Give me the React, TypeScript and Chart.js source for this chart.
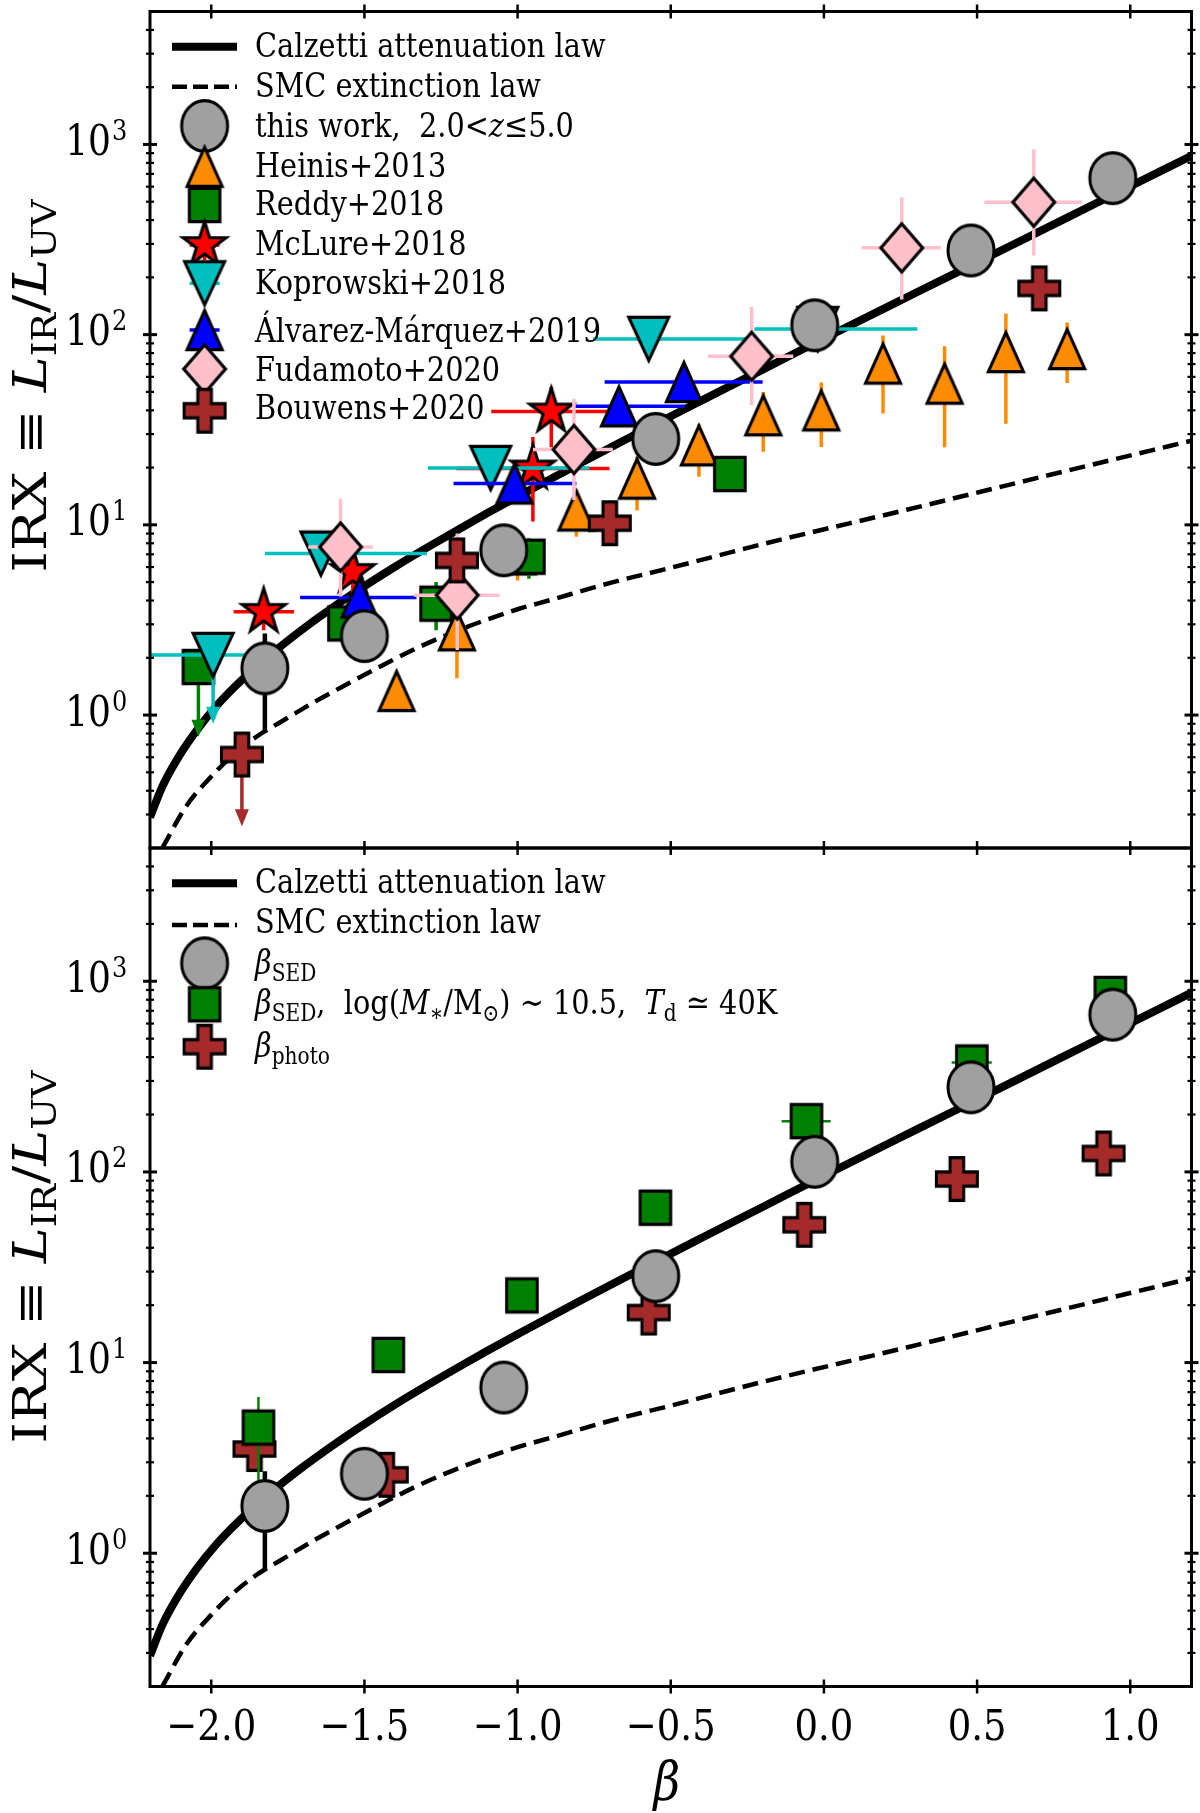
import React, { useEffect, useRef } from "react";
import { Chart, registerables } from "chart.js";

Chart.register(...registerables);

const FONT = '"DejaVu Serif", "Liberation Serif", serif';
const TEXT_VS = 1.18; // vertical stretch of the glyphs, as in the reference picture

// ---------------- axes ----------------
const X_MIN = -2.2;
const X_MAX = 1.2;
const Y_MIN = 0.2;
const Y_MAX = 5000;
const xTickValues = [-2.0, -1.5, -1.0, -0.5, 0.0, 0.5, 1.0];
const xTickLabels = ["\u22122.0", "\u22121.5", "\u22121.0", "\u22120.5", "0.0", "0.5", "1.0"];
const yTickValues = [1, 10, 100, 1000];
const yTickExponents = ["0", "1", "2", "3"];
const yMinorValues = [
  0.3, 0.4, 0.5, 0.6, 0.7, 0.8, 0.9, 2, 3, 4, 5, 6, 7, 8, 9, 20, 30, 40, 50, 60, 70, 80, 90,
  200, 300, 400, 500, 600, 700, 800, 900, 2000, 3000, 4000,
];

// ---------------- model curves ----------------
const calzettiBeta = [-2.2, -2.16, -2.11, -2.05, -1.98, -1.9, -1.8, -1.7, -1.6, -1.5, -1.4, -1.3, -1.2, -1.1, -1.0, -0.8, -0.6, -0.4, -0.2, 0.0, 0.3, 0.6, 0.9, 1.2];
const calzettiIRX = [0.29, 0.42, 0.59, 0.82, 1.13, 1.53, 2.12, 2.84, 3.71, 4.76, 6.02, 7.52, 9.32, 11.5, 14.1, 20.9, 30.8, 45.0, 65.5, 95.5, 166, 288, 501, 871];
const smcBeta = [-2.16, -2.08, -2.0, -1.932, -1.85, -1.768, -1.66, -1.551, -1.44, -1.334, -1.22, -1.116, -1.0, -0.899, -0.7, -0.508, -0.2, 0.27, 0.7, 1.2];
const smcIRX = [0.2, 0.335, 0.475, 0.61, 0.774, 0.93, 1.18, 1.47, 1.83, 2.23, 2.68, 3.11, 3.6, 4.0, 4.94, 5.9, 7.92, 12.0, 17.7, 27.7];

// ---------------- top panel ----------------
const thisWorkBeta = [-1.825, -1.5, -1.045, -0.549, -0.03, 0.48, 0.943];
const thisWorkIRX = [1.76, 2.6, 7.35, 28.3, 112, 277, 665];
const thisWorkLo = [0.81, 1.92, 5.55, 28.3, 112, 277, 665];
const thisWorkHi = [2.68, 2.6, 7.35, 28.3, 112, 277, 665];

const heinisBeta = [-1.395, -1.198, -1.0, -0.808, -0.61, -0.408, -0.198, -0.0085, 0.193, 0.394, 0.594, 0.794];
const heinisIRX = [1.34, 2.79, 7.0, 11.9, 17.5, 26.2, 37.7, 40, 70.5, 55.3, 81, 84];
const heinisLo = [1.34, 1.56, 5.1, 8.65, 11.9, 17.9, 24.2, 25.7, 38.5, 25.6, 34, 55.7];
const heinisHi = [1.34, 4.0, 8.5, 15.2, 22.9, 33.8, 50, 56, 99, 87, 129, 116];

const reddyBeta = [-2.042, -1.567, -1.266, -0.963, -0.307];
const reddyIRX = [1.79, 3.03, 3.85, 6.8, 18.5];
const reddyLo = [1.79, 3.03, 2.79, 5.2, 18.5];
const reddyHi = [1.79, 3.03, 5.0, 8.5, 18.5];
const reddyLimitTo = [0.77, null, null, null, null];

const mclureBeta = [-1.829, -1.538, -0.95, -0.89];
const mclureIRX = [3.49, 5.66, 19.8, 39.5];
const mclureXLo = [-1.927, -1.538, -1.2, -1.086];
const mclureXHi = [-1.73, -1.538, -0.7, -0.694];
const mclureLo = [2.79, 3.35, 10.4, 25.6];
const mclureHi = [4.3, 8.0, 29, 53];

const koprowskiBeta = [-1.994, -1.642, -1.088, -0.572, -0.02];
const koprowskiIRX = [2.07, 7.06, 19.9, 95, 107];
const koprowskiXLo = [-2.198, -1.825, -1.293, -0.754, -0.227];
const koprowskiXHi = [-1.873, -1.296, -0.765, -0.247, 0.305];
const koprowskiLimitTo = [0.9, null, null, null, null];

const alvarezBeta = [-1.516, -1.01, -0.669, -0.457];
const alvarezIRX = [4.15, 16.5, 42, 56.4];
const alvarezXLo = [-1.71, -1.209, -0.814, -0.716];
const alvarezXHi = [-1.33, -0.808, -0.454, -0.2];

const fudamotoBeta = [-1.578, -1.197, -0.816, -0.236, 0.254, 0.685];
const fudamotoIRX = [7.65, 4.27, 24.9, 76.9, 286, 497];
const fudamotoXLo = [-1.683, -1.337, -0.95, -0.378, 0.123, 0.524];
const fudamotoXHi = [-1.473, -1.059, -0.689, -0.1, 0.382, 0.842];
const fudamotoLo = [4.2, 2.2, 13.5, 42.5, 153, 261];
const fudamotoHi = [13.7, 9.0, 46, 140, 528, 942];

const bouwensBeta = [-1.9, -1.198, -0.699, 0.703];
const bouwensIRX = [0.62, 6.5, 10.2, 175];
const bouwensLimitTo = [0.26, null, null, null];

// ---------------- bottom panel ----------------
const sedBeta = [-1.825, -1.5, -1.045, -0.549, -0.03, 0.48, 0.943];
const sedIRX = [1.77, 2.61, 7.4, 28.4, 113, 278, 668];
const sedLo = [0.82, 1.92, 5.57, 28.4, 113, 278, 668];
const sedHi = [2.69, 2.61, 7.4, 28.4, 113, 278, 668];

const massBeta = [-1.846, -1.422, -0.986, -0.55, -0.057, 0.483, 0.935];
const massIRX = [4.56, 10.96, 22.5, 64.9, 184.6, 375, 858];
const massLo = [2.37, 10.96, 22.5, 64.9, 184.6, 375, 858];
const massHi = [6.6, 10.96, 22.5, 64.9, 184.6, 375, 858];
const massXLo = [-1.846, -1.422, -0.986, -0.55, -0.138, 0.417, 0.935];
const massXHi = [-1.846, -1.422, -0.986, -0.55, 0.022, 0.548, 0.935];

const photoBeta = [-1.859, -1.427, -0.572, -0.064, 0.434, 0.913];
const photoIRX = [3.52, 2.58, 18.3, 52.8, 91.8, 125];

// ---------------- colours ----------------
const GREY = "#a0a0a0";
const ORANGE = "#ff8c00";
const GREEN = "#008000";
const RED = "#ff0000";
const CYAN = "#00bfbf";
const BLUE = "#0000ff";
const PINK = "#ffc0cb";
const BROWN = "#a52a2a";

type Seg = { t: string; it?: boolean; sub?: boolean; sup?: boolean };

function drawRich(
  ctx: CanvasRenderingContext2D,
  segs: Seg[],
  x: number,
  y: number,
  size: number,
  align: "left" | "center" | "right" = "left",
  hs = 1,
  vs = TEXT_VS
) {
  const parts = segs.map((s) => {
    const fs = s.sub || s.sup ? size * 0.7 : size;
    const font = `${s.it ? "italic " : ""}${fs}px ${FONT}`;
    ctx.font = font;
    return {
      t: s.t,
      font,
      w: ctx.measureText(s.t).width * hs,
      dy: (s.sub ? size * 0.22 : s.sup ? -size * 0.4 : 0) * vs,
    };
  });
  const total = parts.reduce((a, p) => a + p.w, 0);
  let cx = align === "left" ? x : align === "center" ? x - total / 2 : x - total;
  ctx.textAlign = "left";
  ctx.textBaseline = "alphabetic";
  for (const p of parts) {
    ctx.save();
    ctx.translate(cx, y + p.dy);
    ctx.scale(hs, vs);
    ctx.font = p.font;
    ctx.fillText(p.t, 0, 0);
    ctx.restore();
    cx += p.w;
  }
  return total;
}

function makeMarker(shape: string, s: number, fill: string, sy = 1.1, lw = 3): HTMLCanvasElement {
  const pad = Math.ceil(lw * 3) + 2;
  let w = Math.ceil(2 * s + 2 * pad);
  if (w % 2) w += 1;
  let h = Math.ceil((2 * s + 2 * pad) * sy);
  if (h % 2) h += 1;
  const c = document.createElement("canvas");
  c.width = w;
  c.height = h;
  const g = c.getContext("2d")!;
  g.setTransform(1, 0, 0, sy, w / 2, h / 2);
  g.beginPath();
  if (shape === "circle") {
    g.arc(0, 0, s, 0, Math.PI * 2);
  } else if (shape === "triUp") {
    g.moveTo(0, -s);
    g.lineTo(s, s);
    g.lineTo(-s, s);
    g.closePath();
  } else if (shape === "triDown") {
    g.moveTo(0, s);
    g.lineTo(s, -s);
    g.lineTo(-s, -s);
    g.closePath();
  } else if (shape === "square") {
    g.rect(-s, -s, 2 * s, 2 * s);
  } else if (shape === "diamond") {
    g.moveTo(0, -s);
    g.lineTo(s * 0.95, 0);
    g.lineTo(0, s);
    g.lineTo(-s * 0.95, 0);
    g.closePath();
  } else if (shape === "star") {
    for (let i = 0; i < 10; i++) {
      const r = i % 2 ? s * 0.381966 : s;
      const a = -Math.PI / 2 + (i * Math.PI) / 5;
      const px = r * Math.cos(a);
      const py = r * Math.sin(a);
      if (i === 0) g.moveTo(px, py);
      else g.lineTo(px, py);
    }
    g.closePath();
  } else if (shape === "plus") {
    const a = s / 3;
    const pts = [
      [-a, -s], [a, -s], [a, -a], [s, -a], [s, a], [a, a],
      [a, s], [-a, s], [-a, a], [-s, a], [-s, -a], [-a, -a],
    ];
    pts.forEach(([px, py], i) => (i === 0 ? g.moveTo(px, py) : g.lineTo(px, py)));
    g.closePath();
  }
  g.fillStyle = fill;
  g.fill();
  g.lineWidth = lw;
  g.lineJoin = "miter";
  g.strokeStyle = "#000";
  g.stroke();
  return c;
}

type ErrBars = {
  color: string;
  lw: number;
  x: number[];
  y: number[];
  yLo?: number[];
  yHi?: number[];
  xLo?: number[];
  xHi?: number[];
  limitTo?: (number | null)[];
};

type LegendItem = {
  kind: "line" | "marker";
  lw?: number;
  dash?: number[];
  img?: HTMLCanvasElement;
  bars?: string;
  vbars?: boolean;
  y: number;
  textY: number;
  segs: Seg[];
};

type PanelCfg = {
  name: string;
  offsetY: number;
  legend: LegendItem[];
  yLabelCenter: number;
  showXLabels: boolean;
};

function panelPlugin(cfg: PanelCfg) {
  return {
    id: "panel_" + cfg.name,
    beforeDatasetDraw(chart: any, args: any) {
      const ds = chart.data.datasets[args.index];
      const eb: ErrBars | undefined = ds.errorBars;
      if (!eb) return;
      const { ctx, chartArea: a } = chart;
      const xs = chart.scales.x;
      const ys = chart.scales.y;
      ctx.save();
      ctx.beginPath();
      ctx.rect(a.left, a.top, a.right - a.left, a.bottom - a.top);
      ctx.clip();
      ctx.strokeStyle = eb.color;
      ctx.fillStyle = eb.color;
      ctx.lineWidth = eb.lw;
      ctx.lineCap = "butt";
      for (let i = 0; i < eb.x.length; i++) {
        const px = xs.getPixelForValue(eb.x[i]);
        const py = ys.getPixelForValue(eb.y[i]);
        if (eb.xLo && eb.xHi && (eb.xLo[i] !== eb.x[i] || eb.xHi[i] !== eb.x[i])) {
          ctx.beginPath();
          ctx.moveTo(xs.getPixelForValue(eb.xLo[i]), py);
          ctx.lineTo(xs.getPixelForValue(eb.xHi[i]), py);
          ctx.stroke();
        }
        if (eb.yLo && eb.yHi && (eb.yLo[i] !== eb.y[i] || eb.yHi[i] !== eb.y[i])) {
          ctx.beginPath();
          ctx.moveTo(px, ys.getPixelForValue(eb.yLo[i]));
          ctx.lineTo(px, ys.getPixelForValue(eb.yHi[i]));
          ctx.stroke();
        }
        const lim = eb.limitTo ? eb.limitTo[i] : null;
        if (lim != null) {
          const tip = ys.getPixelForValue(lim);
          const headL = 17;
          const headW = 7;
          ctx.beginPath();
          ctx.moveTo(px, py);
          ctx.lineTo(px, tip - headL + 2);
          ctx.stroke();
          ctx.beginPath();
          ctx.moveTo(px, tip);
          ctx.lineTo(px - headW, tip - headL);
          ctx.lineTo(px + headW, tip - headL);
          ctx.closePath();
          ctx.fill();
        }
      }
      ctx.restore();
    },
    afterDatasetsDraw(chart: any) {
      const { ctx, chartArea: a } = chart;
      const xs = chart.scales.x;
      const ys = chart.scales.y;
      ctx.save();
      ctx.strokeStyle = "#000";
      ctx.lineCap = "butt";
      const seg = (x1: number, y1: number, x2: number, y2: number, lw: number) => {
        ctx.lineWidth = lw;
        ctx.beginPath();
        ctx.moveTo(x1, y1);
        ctx.lineTo(x2, y2);
        ctx.stroke();
      };
      for (const v of xTickValues) {
        const px = xs.getPixelForValue(v);
        seg(px, a.bottom - 7, px, a.bottom + 7, 2.5);
        seg(px, a.top - 7, px, a.top + 7, 2.5);
      }
      for (const v of yTickValues) {
        const py = ys.getPixelForValue(v);
        seg(a.left - 7, py, a.left + 7, py, 3);
        seg(a.right - 7, py, a.right + 7, py, 3);
      }
      for (const v of yMinorValues) {
        const py = ys.getPixelForValue(v);
        seg(a.left - 4, py, a.left + 4, py, 2.2);
        seg(a.right - 4, py, a.right + 4, py, 2.2);
      }
      ctx.lineWidth = 3;
      ctx.strokeRect(a.left, a.top, a.right - a.left, a.bottom - a.top);

      ctx.fillStyle = "#000";
      yTickValues.forEach((v, i) => {
        const py = ys.getPixelForValue(v);
        drawRich(ctx, [{ t: "10" }], a.left - 39, py + 10.5, 36, "right");
        drawRich(ctx, [{ t: yTickExponents[i] }], a.left - 38, py - 4.5, 24, "left");
      });

      if (cfg.showXLabels) {
        xTickValues.forEach((v, i) => {
          drawRich(ctx, [{ t: xTickLabels[i] }], xs.getPixelForValue(v), 1740 - cfg.offsetY, 37, "center");
        });
        drawRich(ctx, [{ t: "\u03b2", it: true }], (a.left + a.right) / 2 - 4, 1800 - cfg.offsetY, 46, "center");
      }

      // y-axis label
      ctx.save();
      ctx.translate(46, cfg.yLabelCenter - cfg.offsetY);
      ctx.rotate(-Math.PI / 2);
      drawRich(
        ctx,
        [
          { t: "IRX \u2261 " },
          { t: "L", it: true },
          { t: "IR", sub: true },
          { t: "/" },
          { t: "L", it: true },
          { t: "UV", sub: true },
        ],
        0,
        0,
        47,
        "center",
        1.15,
        1
      );
      ctx.restore();
      ctx.restore();
    },
    afterDraw(chart: any) {
      const { ctx } = chart;
      ctx.save();
      ctx.fillStyle = "#000";
      const hx = 204.6;
      for (const it of cfg.legend) {
        const y = it.y - cfg.offsetY;
        if (it.kind === "line") {
          ctx.strokeStyle = "#000";
          ctx.lineWidth = it.lw || 3;
          ctx.setLineDash(it.dash || []);
          ctx.lineCap = "butt";
          ctx.beginPath();
          ctx.moveTo(172, y);
          ctx.lineTo(237, y);
          ctx.stroke();
          ctx.setLineDash([]);
        } else if (it.img) {
          if (it.bars) {
            ctx.strokeStyle = it.bars;
            ctx.lineWidth = 3.5;
            ctx.beginPath();
            ctx.moveTo(hx - 15, y);
            ctx.lineTo(hx + 15, y);
            if (it.vbars) {
              ctx.moveTo(hx, y - 15);
              ctx.lineTo(hx, y + 15);
            }
            ctx.stroke();
          }
          ctx.drawImage(it.img, hx - it.img.width / 2, y - it.img.height / 2);
        }
        drawRich(ctx, it.segs, 255, it.textY - cfg.offsetY, 28.8, "left");
      }
      ctx.restore();
    },
  };
}

function pts(xs: number[], ys: number[]) {
  return xs.map((x, i) => ({ x, y: ys[i] }));
}

function markerSet(label: string, xs: number[], ys: number[], img: HTMLCanvasElement, order: number, errorBars?: ErrBars) {
  return {
    type: "scatter",
    label,
    order,
    data: pts(xs, ys),
    pointStyle: img,
    pointRadius: 22,
    pointHoverRadius: 22,
    pointBorderWidth: 0,
    showLine: false,
    errorBars,
  } as any;
}

function curveSets() {
  return [
    {
      type: "line",
      label: "Calzetti attenuation law",
      order: 30,
      data: pts(calzettiBeta, calzettiIRX),
      borderColor: "#000",
      borderWidth: 8,
      pointRadius: 0,
      fill: false,
      cubicInterpolationMode: "monotone",
      clip: 0,
    },
    {
      type: "line",
      label: "SMC extinction law",
      order: 31,
      data: pts(smcBeta, smcIRX),
      borderColor: "#000",
      borderWidth: 4.5,
      borderDash: [16, 8],
      pointRadius: 0,
      fill: false,
      cubicInterpolationMode: "monotone",
      clip: 0,
    },
  ] as any[];
}

function baseOptions(padding: any) {
  return {
    responsive: false,
    animation: false,
    devicePixelRatio: 1,
    events: [],
    layout: { padding, autoPadding: false },
    scales: {
      x: { type: "linear", min: X_MIN, max: X_MAX, display: false },
      y: { type: "logarithmic", min: Y_MIN, max: Y_MAX, display: false },
    },
    plugins: { legend: { display: false }, tooltip: { enabled: false } },
  } as any;
}

export default function App() {
  const topRef = useRef<HTMLCanvasElement>(null);
  const botRef = useRef<HTMLCanvasElement>(null);

  useEffect(() => {
    const M = {
      circle: makeMarker("circle", 23, GREY, 1.1),
      heinis: makeMarker("triUp", 17.5, ORANGE, 1.12),
      reddy: makeMarker("square", 15.3, GREEN, 1.08),
      mclure: makeMarker("star", 22.5, RED, 1.04),
      koprowski: makeMarker("triDown", 20, CYAN, 1.08),
      alvarez: makeMarker("triUp", 17.5, BLUE, 1.12),
      fudamoto: makeMarker("diamond", 22, PINK, 1.1),
      bouwens: makeMarker("plus", 20.5, BROWN, 1.04),
    };

    const topLegend: LegendItem[] = [
      { kind: "line", lw: 8, y: 46.7, textY: 56.7, segs: [{ t: "Calzetti attenuation law" }] },
      { kind: "line", lw: 4.5, dash: [15, 6], y: 86.7, textY: 96.5, segs: [{ t: "SMC extinction law" }] },
      { kind: "marker", img: M.circle, y: 126, textY: 136.7, segs: [{ t: "this work,  2.0<" }, { t: "z", it: true }, { t: "\u22645.0" }] },
      { kind: "marker", img: M.heinis, y: 166.7, textY: 176.7, segs: [{ t: "Heinis+2013" }] },
      { kind: "marker", img: M.reddy, y: 205, textY: 215, segs: [{ t: "Reddy+2018" }] },
      { kind: "marker", img: M.mclure, bars: RED, vbars: true, y: 245, textY: 255, segs: [{ t: "McLure+2018" }] },
      { kind: "marker", img: M.koprowski, bars: CYAN, y: 283.3, textY: 294, segs: [{ t: "Koprowski+2018" }] },
      { kind: "marker", img: M.alvarez, bars: BLUE, y: 330, textY: 342, segs: [{ t: "\u00c1lvarez-M\u00e1rquez+2019" }] },
      { kind: "marker", img: M.fudamoto, y: 369, textY: 381, segs: [{ t: "Fudamoto+2020" }] },
      { kind: "marker", img: M.bouwens, y: 410.7, textY: 419, segs: [{ t: "Bouwens+2020" }] },
    ];

    const botLegend: LegendItem[] = [
      { kind: "line", lw: 8, y: 883.3, textY: 893.3, segs: [{ t: "Calzetti attenuation law" }] },
      { kind: "line", lw: 4.5, dash: [15, 6], y: 925, textY: 933.3, segs: [{ t: "SMC extinction law" }] },
      { kind: "marker", img: M.circle, y: 963.3, textY: 973.5, segs: [{ t: "\u03b2", it: true }, { t: "SED", sub: true }] },
      {
        kind: "marker",
        img: M.reddy,
        y: 1004.3,
        textY: 1014,
        segs: [
          { t: "\u03b2", it: true },
          { t: "SED", sub: true },
          { t: ",  log(" },
          { t: "M", it: true },
          { t: "\u2217", sub: true },
          { t: "/M" },
          { t: "\u2299", sub: true },
          { t: ") \u223c 10.5,  " },
          { t: "T", it: true },
          { t: "d", sub: true },
          { t: " \u2243 40K" },
        ],
      },
      { kind: "marker", img: M.bouwens, y: 1046.7, textY: 1056.7, segs: [{ t: "\u03b2", it: true }, { t: "photo", sub: true }] },
    ];

    const topData = {
      datasets: [
        ...curveSets(),
        markerSet("Heinis+2013", heinisBeta, heinisIRX, M.heinis, 9, {
          color: ORANGE, lw: 3.5, x: heinisBeta, y: heinisIRX, yLo: heinisLo, yHi: heinisHi,
        }),
        markerSet("Reddy+2018", reddyBeta, reddyIRX, M.reddy, 8, {
          color: GREEN, lw: 3.5, x: reddyBeta, y: reddyIRX, yLo: reddyLo, yHi: reddyHi, limitTo: reddyLimitTo,
        }),
        markerSet("McLure+2018", mclureBeta, mclureIRX, M.mclure, 7, {
          color: RED, lw: 3.5, x: mclureBeta, y: mclureIRX, xLo: mclureXLo, xHi: mclureXHi, yLo: mclureLo, yHi: mclureHi,
        }),
        markerSet("Koprowski+2018", koprowskiBeta, koprowskiIRX, M.koprowski, 6, {
          color: CYAN, lw: 3.5, x: koprowskiBeta, y: koprowskiIRX, xLo: koprowskiXLo, xHi: koprowskiXHi, limitTo: koprowskiLimitTo,
        }),
        markerSet("Álvarez-Márquez+2019", alvarezBeta, alvarezIRX, M.alvarez, 5, {
          color: BLUE, lw: 3.5, x: alvarezBeta, y: alvarezIRX, xLo: alvarezXLo, xHi: alvarezXHi,
        }),
        markerSet("Fudamoto+2020", fudamotoBeta, fudamotoIRX, M.fudamoto, 4, {
          color: PINK, lw: 3.5, x: fudamotoBeta, y: fudamotoIRX, xLo: fudamotoXLo, xHi: fudamotoXHi, yLo: fudamotoLo, yHi: fudamotoHi,
        }),
        markerSet("Bouwens+2020", bouwensBeta, bouwensIRX, M.bouwens, 3, {
          color: BROWN, lw: 3.5, x: bouwensBeta, y: bouwensIRX, limitTo: bouwensLimitTo,
        }),
        markerSet("this work", thisWorkBeta, thisWorkIRX, M.circle, 1, {
          color: "#000", lw: 4.5, x: thisWorkBeta, y: thisWorkIRX, yLo: thisWorkLo, yHi: thisWorkHi,
        }),
      ],
    };

    const botData = {
      datasets: [
        ...curveSets(),
        markerSet("beta_photo", photoBeta, photoIRX, M.bouwens, 5),
        markerSet("beta_SED mass", massBeta, massIRX, M.reddy, 4, {
          color: GREEN, lw: 2.5, x: massBeta, y: massIRX, yLo: massLo, yHi: massHi, xLo: massXLo, xHi: massXHi,
        }),
        markerSet("beta_SED", sedBeta, sedIRX, M.circle, 1, {
          color: "#000", lw: 4.5, x: sedBeta, y: sedIRX, yLo: sedLo, yHi: sedHi,
        }),
      ],
    };

    const c1 = new Chart(topRef.current!, {
      type: "scatter",
      data: topData as any,
      options: baseOptions({ left: 150, right: 8.5, top: 11.5, bottom: 2 }),
      plugins: [panelPlugin({ name: "top", offsetY: 0, legend: topLegend, yLabelCenter: 386, showXLabels: false })],
    } as any);

    const c2 = new Chart(botRef.current!, {
      type: "scatter",
      data: botData as any,
      options: baseOptions({ left: 150, right: 8.5, top: 2, bottom: 967 - 840.5 }),
      plugins: [panelPlugin({ name: "bot", offsetY: 846, legend: botLegend, yLabelCenter: 1257, showXLabels: true })],
    } as any);

    return () => {
      c1.destroy();
      c2.destroy();
    };
  }, []);

  return (
    <div style={{ position: "absolute", left: 0, top: 0, width: 1200, height: 1813, background: "#fff" }}>
      <canvas
        ref={topRef}
        width={1200}
        height={850}
        style={{ position: "absolute", left: 0, top: 0, width: 1200, height: 850 }}
      />
      <canvas
        ref={botRef}
        width={1200}
        height={967}
        style={{ position: "absolute", left: 0, top: 846, width: 1200, height: 967 }}
      />
    </div>
  );
}
